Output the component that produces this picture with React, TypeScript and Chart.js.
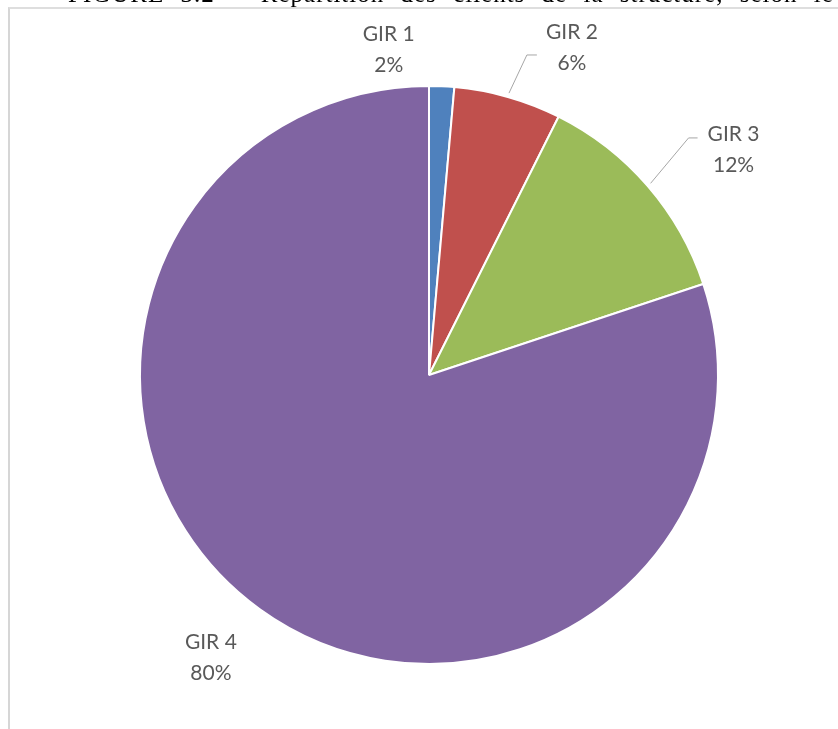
import React, { useEffect, useRef } from "react";
import { Chart, registerables } from "chart.js";

Chart.register(...registerables);

const categories = ["GIR 1", "GIR 2", "GIR 3", "GIR 4"];
const shares = [1.4, 6.0, 12.5, 80.1];
const percentLabels = ["2%", "6%", "12%", "80%"];
const titleText = "FIGURE 3.2 – Répartition des clients de la structure, selon le GIR";

const colors = ["#4F81BD", "#C0504D", "#9BBB59", "#8064A2"];
// label centre offsets from each slice's outer mid point (style)
const labelOffsets: [number, number][] = [
  [-53, -37],
  [64, -49],
  [86, -36],
  [-49, 48],
];
// leader line elbow/end relative to label centre (style)
const leaderPoints: ([number, number][] | null)[] = [
  null,
  [
    [-45, 7],
    [-35, 7],
  ],
  [
    [-45, -12],
    [-36, -12],
  ],
  null,
];

const labelPlugin = {
  id: "pieLabels",
  afterDatasetsDraw(chart: any) {
    const ctx = chart.ctx;
    const meta = chart.getDatasetMeta(0);
    ctx.save();
    meta.data.forEach((arc: any, i: number) => {
      const { x, y, startAngle, endAngle, outerRadius } = arc.getProps(
        ["x", "y", "startAngle", "endAngle", "outerRadius"],
        true
      );
      const mid = (startAngle + endAngle) / 2;
      const ox = x + Math.cos(mid) * outerRadius;
      const oy = y + Math.sin(mid) * outerRadius;
      const lx = ox + labelOffsets[i][0];
      const ly = oy + labelOffsets[i][1];
      const lp = leaderPoints[i];
      if (lp) {
        ctx.beginPath();
        ctx.strokeStyle = "#a6a6a6";
        ctx.lineWidth = 1;
        ctx.moveTo(x + Math.cos(mid) * (outerRadius + 4), y + Math.sin(mid) * (outerRadius + 4));
        lp.forEach((p) => ctx.lineTo(lx + p[0], ly + p[1]));
        ctx.stroke();
      }
      ctx.fillStyle = "#595959";
      ctx.font = "21px Lato";
      ctx.textAlign = "center";
      ctx.textBaseline = "middle";
      ctx.fillText(categories[i], lx, ly - 15.5);
      ctx.fillText(percentLabels[i], lx, ly + 15.5);
    });
    ctx.restore();
  },
};

export default function App() {
  const ref = useRef<HTMLCanvasElement | null>(null);
  useEffect(() => {
    if (!ref.current) return;
    const chart = new Chart(ref.current, {
      type: "pie",
      data: {
        labels: categories,
        datasets: [
          {
            data: shares,
            backgroundColor: colors,
            borderColor: "#ffffff",
            borderWidth: 2,
          },
        ],
      },
      options: {
        responsive: false,
        animation: false,
        devicePixelRatio: 1,
        layout: { padding: { left: 129, right: 119, top: 76, bottom: 64 } },
        plugins: {
          legend: { display: false },
          tooltip: { enabled: false },
          title: { display: false },
        },
      },
      plugins: [labelPlugin],
    });
    return () => chart.destroy();
  }, []);

  return (
    <>
      <div
        style={{
          position: "fixed",
          top: 0,
          left: 0,
          width: 838,
          height: 7,
          overflow: "hidden",
        }}
      >
        <div
          style={{
            position: "absolute",
            top: -19,
            left: 68,
            fontFamily: "'Liberation Serif', serif",
            fontSize: 25,
            lineHeight: "25px",
            letterSpacing: 1,
            wordSpacing: 9,
            whiteSpace: "nowrap",
            color: "#000",
          }}
        >
          {titleText}
        </div>
      </div>
      <div
        style={{
          position: "fixed",
          top: 7,
          left: 8,
          width: 828,
          height: 720,
          borderTop: "2px solid #dedede",
          borderLeft: "2px solid #d6d6d6",
          background: "#fff",
        }}
      >
        <canvas ref={ref} width={828} height={720} style={{ display: "block" }} />
      </div>
    </>
  );
}
